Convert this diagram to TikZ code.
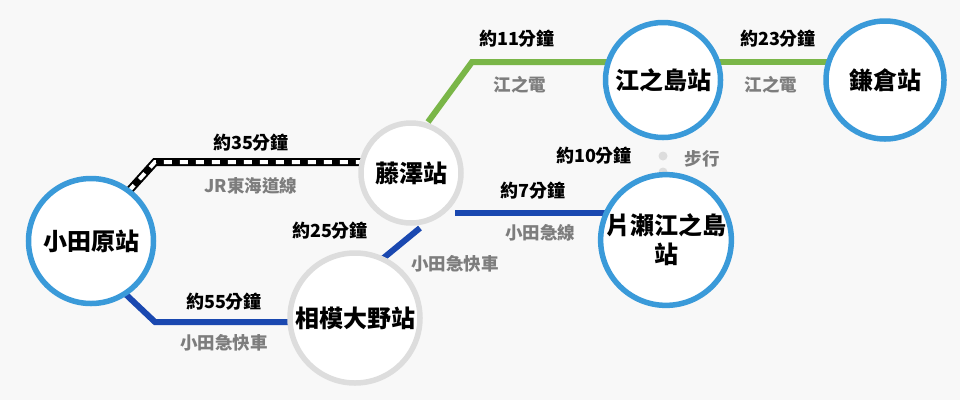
\documentclass[tikz,border=0pt]{standalone}
\usepackage{fontspec}
\setmainfont{Noto Sans CJK TC}
\definecolor{bg}{HTML}{F8F8F8}
\definecolor{stblue}{HTML}{3A9AD9}
\definecolor{stgray}{HTML}{DDDDDD}
\definecolor{odq}{HTML}{1A48B0}
\definecolor{enoden}{HTML}{7AB648}
\definecolor{lbl}{HTML}{666666}
\tikzset{
  st/.style={circle,fill=white,line width=5.5pt,align=center,inner sep=0pt,font=\bfseries\fontsize{24}{29}\selectfont},
  stb/.style={st,draw=stblue},
  stg/.style={st,draw=stgray},
  tm/.style={font=\bfseries\fontsize{18}{21}\selectfont},
  ln/.style={font=\bfseries\fontsize{17.5}{21}\selectfont,text=lbl!85},
  blue line/.style={draw=odq,line width=6pt},
  green line/.style={draw=enoden,line width=6pt},
}
\begin{document}
\begin{tikzpicture}[x=1pt,y=-1pt]
\fill[bg] (0,0) rectangle (960,400);
\useasboundingbox (0,0) rectangle (960,400);
\coordinate (j1) at (118,203); \coordinate (j2) at (155,162); \coordinate (j3) at (372,162);
\coordinate (o1) at (118,287); \coordinate (o2) at (155,322); \coordinate (o3) at (305,322);
\coordinate (s1) at (375,265); \coordinate (s2) at (420,228);
\coordinate (f1) at (455,213); \coordinate (f2) at (625,213);
\coordinate (g1) at (428,122); \coordinate (g2) at (472,62); \coordinate (g3) at (620,62);
\coordinate (k1) at (705,62); \coordinate (k2) at (840,62);
\draw[black,line width=8pt] (j1)--(j2)--(j3);
\draw[white,line width=4pt,dash pattern=on 8pt off 8pt] (j1)--(j2)--(j3);
\draw[blue line] (o1)--(o2)--(o3);
\draw[blue line] (s1)--(s2);
\draw[blue line] (f1)--(f2);
\draw[green line] (g1)--(g2)--(g3);
\draw[green line] (k1)--(k2);
\fill[stgray] (663,156) circle (4.5pt) (663,172) circle (4.5pt);
\node[stb,minimum size=125pt] (odawara) at (91,241) {小田原站};
\node[stg,minimum size=100pt] (fujisawa) at (411,173) {藤澤站};
\node[stg,minimum size=130pt] (sagami) at (355,318) {相模大野站};
\node[stb,minimum size=115pt] (enoshima) at (663,80) {江之島站};
\node[stb,minimum size=118pt] (kamakura) at (885,80) {鎌倉站};
\node[stb,minimum size=120pt] (katase) at (666,240) {片瀨江之島\\站};
\node[tm] (t1) at (251,143) {約35分鐘};
\node[ln] (l1) at (251,186) {JR東海道線};
\node[tm] (t2) at (224,302) {約55分鐘};
\node[ln] (l2) at (224,343) {小田急快車};
\node[tm] (t3) at (330,231) {約25分鐘};
\node[ln] (l3) at (455,264) {小田急快車};
\node[tm] (t4) at (533,191) {約7分鐘};
\node[ln] (l4) at (540,233) {小田急線};
\node[tm] (t5) at (594,156) {約10分鐘};
\node[ln] (l5) at (702,159) {步行};
\node[tm] (t6) at (517,39) {約11分鐘};
\node[ln] (l6) at (520,85) {江之電};
\node[tm] (t7) at (778,39) {約23分鐘};
\node[ln] (l7) at (771,85) {江之電};
\end{tikzpicture}
\end{document}
